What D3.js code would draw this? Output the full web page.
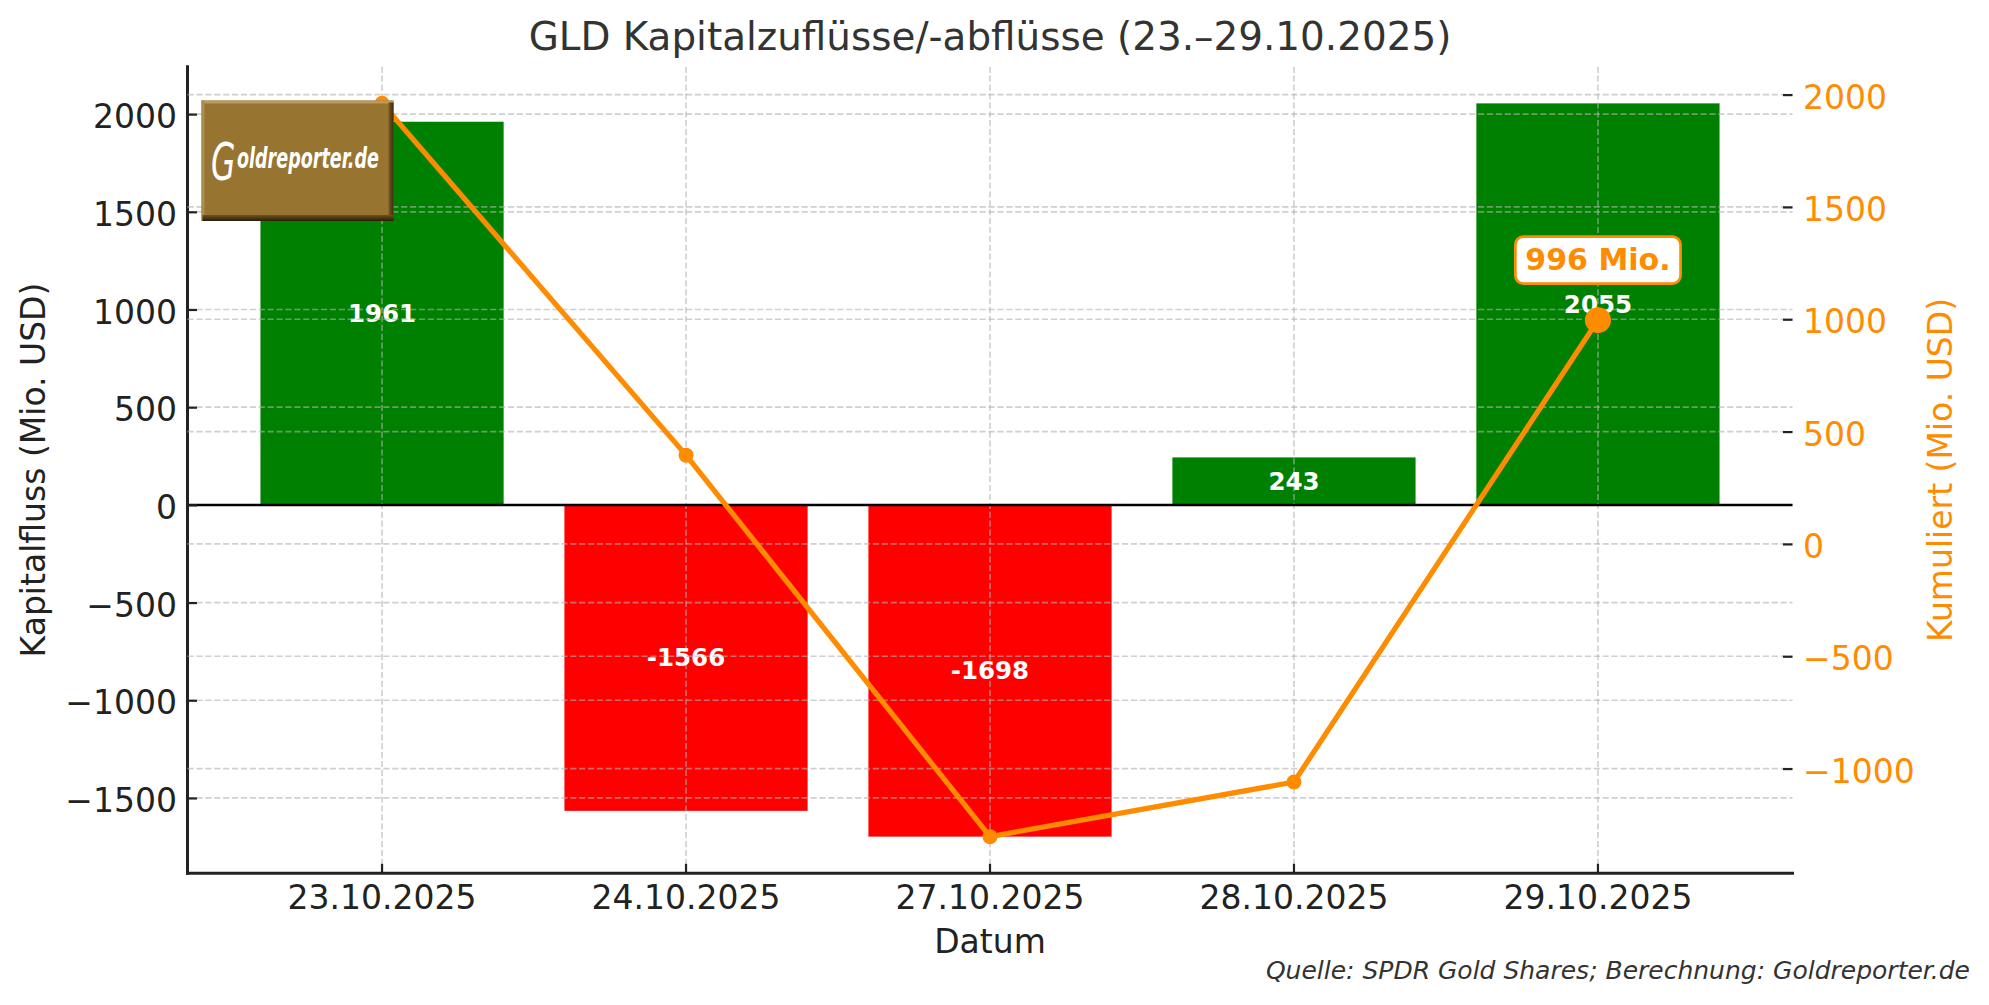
<!DOCTYPE html>
<html>
<head>
<meta charset="utf-8">
<script src="https://cdn.jsdelivr.net/npm/d3@7"></script>
<style>
  html, body { margin: 0; padding: 0; background: #fff; }
  svg { display: block; font-family: "DejaVu Sans", sans-serif; }
</style>
</head>
<body>
<svg id="chart" width="1989" height="1005"></svg>
<script>
// ---------- data ----------
const dates = ["23.10.2025", "24.10.2025", "27.10.2025", "28.10.2025", "29.10.2025"];
const flows = [1961, -1566, -1698, 243, 2055];          // Kapitalfluss (Mio. USD)
const cumulative = [1961, 395, -1303, -1060, 996];       // Kumuliert (Mio. USD)
const leftTicks = [-1500, -1000, -500, 0, 500, 1000, 1500, 2000];
const rightTicks = [-1000, -500, 0, 500, 1000, 1500, 2000];
const titleText = "GLD Kapitalzuflüsse/-abflüsse (23.–29.10.2025)";
const leftLabel = "Kapitalfluss (Mio. USD)";
const rightLabel = "Kumuliert (Mio. USD)";
const xLabel = "Datum";
const sourceText = "Quelle: SPDR Gold Shares; Berechnung: Goldreporter.de";
const lastLabel = "996 Mio.";
const logoText = ["G", "oldreporter.de"];

// ---------- layout ----------
const W = 1989, H = 1005;
const L = 187.5, R = 1792.5, T = 66.7, B = 873.3;
const ORANGE = "#ff8c00", GREEN = "#008000", RED = "#ff0000";
const INK = "#222222";
const svg = d3.select("#chart");

function padded(lo, hi) { const r = hi - lo; return [lo - 0.05 * r, hi + 0.05 * r]; }

const x = d3.scaleBand().domain(dates).range([L, R]).paddingInner(0.2).paddingOuter(0.24);
const xc = d => x(d) + x.bandwidth() / 2;
const yL = d3.scaleLinear().domain(padded(Math.min(0, d3.min(flows)), Math.max(0, d3.max(flows)))).range([B, T]);
const yR = d3.scaleLinear().domain(padded(d3.min(cumulative), d3.max(cumulative))).range([B, T]);
const fmt = d3.format("d");

// ---------- ax1 ----------
const g1 = svg.append("g");
g1.selectAll("rect.bar").data(flows).join("rect")
  .attr("class", "bar")
  .attr("x", (d, i) => x(dates[i]))
  .attr("width", x.bandwidth())
  .attr("y", d => yL(Math.max(0, d)))
  .attr("height", d => Math.abs(yL(d) - yL(0)))
  .attr("fill", d => d >= 0 ? GREEN : RED);

const gridStyle = sel => sel.attr("stroke", "#b0b0b0").attr("stroke-opacity", 0.6)
  .attr("stroke-width", 1.67).attr("stroke-dasharray", "6.2,2.7");

g1.selectAll("line.gl").data(leftTicks).join("line")
  .attr("x1", L).attr("x2", R).attr("y1", d => yL(d)).attr("y2", d => yL(d)).call(gridStyle);
g1.selectAll("line.gv").data(dates).join("line")
  .attr("x1", d => xc(d)).attr("x2", d => xc(d)).attr("y1", T).attr("y2", B).call(gridStyle);

g1.append("line").attr("x1", L).attr("x2", R).attr("y1", yL(0)).attr("y2", yL(0))
  .attr("stroke", "#000").attr("stroke-width", 2.5);

g1.selectAll("text.bl").data(flows).join("text")
  .attr("x", (d, i) => xc(dates[i]))
  .attr("y", d => yL(d / 2) + 8.5)
  .attr("text-anchor", "middle")
  .attr("font-weight", "bold").attr("font-size", 24.5).attr("fill", "#fff")
  .text(d => String(d));

const axL = d3.axisLeft(yL).tickValues(leftTicks).tickFormat(fmt).tickSizeInner(-9.5).tickSizeOuter(0).tickPadding(10.5);
const gL = g1.append("g").attr("transform", `translate(${L},0)`).call(axL);
gL.select(".domain").remove();
gL.selectAll(".tick line").attr("stroke", INK).attr("stroke-width", 2.2);
gL.selectAll(".tick text").attr("font-size", 33).attr("fill", INK).attr("font-family", "DejaVu Sans").attr("dy", "0.41em");

const axB = d3.axisBottom(x).tickSizeInner(-9.5).tickSizeOuter(0).tickPadding(12);
const gB = g1.append("g").attr("transform", `translate(0,${B})`).call(axB);
gB.select(".domain").remove();
gB.selectAll(".tick line").attr("stroke", INK).attr("stroke-width", 2.2);
gB.selectAll(".tick text").attr("font-size", 33).attr("fill", INK).attr("font-family", "DejaVu Sans");

g1.append("line").attr("x1", L).attr("x2", L).attr("y1", T).attr("y2", B)
  .attr("stroke", INK).attr("stroke-width", 3).attr("stroke-linecap", "square");
g1.append("line").attr("x1", L).attr("x2", R).attr("y1", B).attr("y2", B)
  .attr("stroke", INK).attr("stroke-width", 3).attr("stroke-linecap", "square");

// ---------- ax2 ----------
const g2 = svg.append("g");
g2.selectAll("line.gr").data(rightTicks).join("line")
  .attr("x1", L).attr("x2", R).attr("y1", d => yR(d)).attr("y2", d => yR(d)).call(gridStyle);

const axR = d3.axisRight(yR).tickValues(rightTicks).tickFormat(fmt).tickSizeInner(-9.5).tickSizeOuter(0).tickPadding(10.5);
const gR = g2.append("g").attr("transform", `translate(${R},0)`).call(axR);
gR.select(".domain").remove();
gR.selectAll(".tick line").attr("stroke", INK).attr("stroke-width", 2.2);
gR.selectAll(".tick text").attr("font-size", 33).attr("fill", ORANGE).attr("font-family", "DejaVu Sans").attr("dy", "0.41em");

const line = d3.line().x((d, i) => xc(dates[i])).y(d => yR(d));
g2.append("path").datum(cumulative).attr("d", line)
  .attr("fill", "none").attr("stroke", ORANGE).attr("stroke-width", 5.2)
  .attr("stroke-linejoin", "round");
g2.selectAll("circle.pt").data(cumulative).join("circle")
  .attr("cx", (d, i) => xc(dates[i])).attr("cy", d => yR(d)).attr("r", 7.5).attr("fill", ORANGE);
const lastI = cumulative.length - 1;
g2.append("circle").attr("cx", xc(dates[lastI])).attr("cy", yR(cumulative[lastI])).attr("r", 13).attr("fill", ORANGE);

const annX = xc(dates[lastI]), annY = yR(cumulative[lastI]) - 60;
const annG = g2.append("g");
const annRect = annG.append("rect");
const annText = annG.append("text").attr("x", annX).attr("y", annY + 9.5)
  .attr("text-anchor", "middle").attr("font-weight", "bold").attr("font-size", 30)
  .attr("fill", ORANGE).text(lastLabel);
const tl = annText.node().getComputedTextLength();
annRect.attr("x", annX - tl / 2 - 10).attr("width", tl + 20)
  .attr("y", annY - 23.5).attr("height", 47).attr("rx", 8).attr("ry", 8)
  .attr("fill", "#fff").attr("stroke", ORANGE).attr("stroke-width", 2.7);

// ---------- titles & labels ----------
svg.append("text").attr("x", (L + R) / 2).attr("y", 49.5).attr("text-anchor", "middle")
  .attr("font-size", 38.9).attr("fill", "#333").text(titleText);
svg.append("text").attr("transform", `translate(45,${(T + B) / 2}) rotate(-90)`)
  .attr("text-anchor", "middle").attr("font-size", 33).attr("fill", INK).text(leftLabel);
svg.append("text").attr("transform", `translate(1951.7,${(T + B) / 2}) rotate(-90)`)
  .attr("text-anchor", "middle").attr("font-size", 33).attr("fill", ORANGE).text(rightLabel);
svg.append("text").attr("x", (L + R) / 2).attr("y", 953).attr("text-anchor", "middle")
  .attr("font-size", 33).attr("fill", INK).text(xLabel);
svg.append("text").attr("x", 1970).attr("y", 979).attr("text-anchor", "end")
  .attr("font-size", 25).attr("font-style", "italic").attr("fill", "#333").text(sourceText);

// ---------- logo ----------
const defs = svg.append("defs");
const gb = defs.append("linearGradient").attr("id", "lgB").attr("x1", 0).attr("y1", 0).attr("x2", 0).attr("y2", 1);
gb.append("stop").attr("offset", 0).attr("stop-color", "#6e5222");
gb.append("stop").attr("offset", 1).attr("stop-color", "#2a1d06");
const gr = defs.append("linearGradient").attr("id", "lgR").attr("x1", 0).attr("y1", 0).attr("x2", 1).attr("y2", 0);
gr.append("stop").attr("offset", 0).attr("stop-color", "#7a5c26");
gr.append("stop").attr("offset", 1).attr("stop-color", "#3a2a0c");
const lg = svg.append("g");
const lx = 201.5, ly = 100.5, lw = 192, lh = 120.5;
lg.append("rect").attr("x", lx).attr("y", ly).attr("width", lw).attr("height", lh).attr("fill", "#977530");
lg.append("rect").attr("x", lx).attr("y", ly).attr("width", lw).attr("height", 3).attr("fill", "#b89a62");
lg.append("rect").attr("x", lx).attr("y", ly).attr("width", 3).attr("height", lh).attr("fill", "#ad8c50");
lg.append("rect").attr("x", lx + lw - 5).attr("y", ly + 2).attr("width", 5).attr("height", lh - 2).attr("fill", "url(#lgR)");
lg.append("rect").attr("x", lx + 1).attr("y", ly + lh - 6).attr("width", lw - 1).attr("height", 6).attr("fill", "url(#lgB)");
const logoT = lg.append("text").attr("transform", "translate(211,180) scale(0.605,1)")
  .attr("font-style", "italic").attr("fill", "#fff");
logoT.append("tspan").attr("font-size", 52).text(logoText[0]);
logoT.append("tspan").attr("font-size", 29).attr("font-weight", "bold")
  .attr("dx", 2.7).attr("dy", -11.7).text(logoText[1]);
</script>
</body>
</html>
